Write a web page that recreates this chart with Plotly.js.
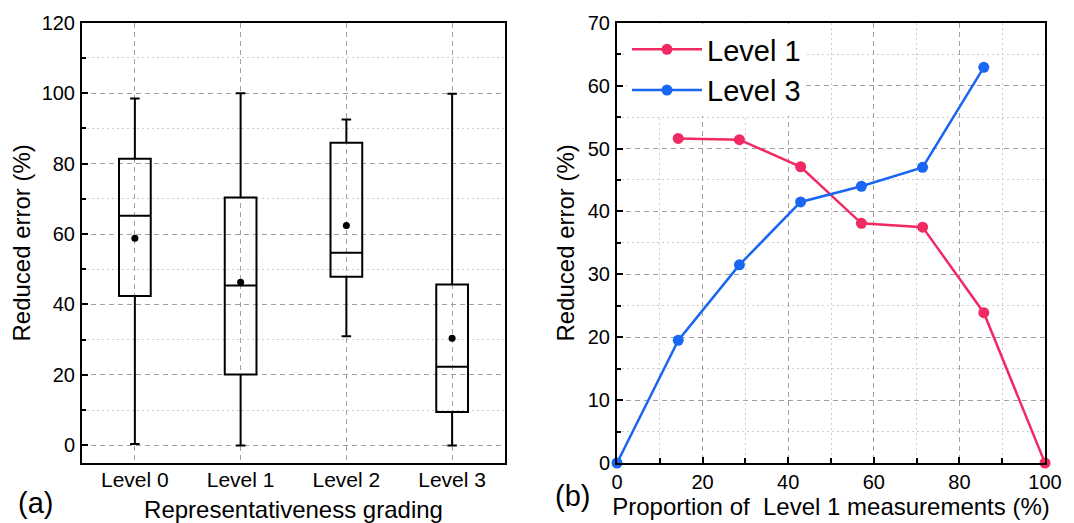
<!DOCTYPE html>
<html>
<head>
<meta charset="utf-8">
<script src="https://cdn.plot.ly/plotly-3.0.1.min.js"></script>
<style>html,body{margin:0;padding:0;background:#fff;}#chart{width:1074px;height:523px;}</style>
</head>
<body>
<div id="chart"></div>
<script>
// Panel (a): box plot statistics
const categories = ['Level 0', 'Level 1', 'Level 2', 'Level 3'];
const q1Vals = [42.4, 20.1, 47.9, 9.5];
const medianVals = [65.2, 45.4, 54.7, 22.3];
const q3Vals = [81.4, 70.4, 85.9, 45.7];
const lowerVals = [0.4, 0, 31.0, 0];
const upperVals = [98.5, 100, 92.5, 99.8];
const meanVals = [58.8, 46.3, 62.4, 30.4];

// Panel (b): line series
const propX = [0, 14.3, 28.6, 42.9, 57.1, 71.4, 85.7, 100];
const level1Vals = [null, 51.6, 51.4, 47.1, 38.1, 37.5, 23.9, 0];
const level3Vals = [0, 19.5, 31.5, 41.5, 44.0, 47.0, 62.9, null];

const FONT = 'Arial, "Liberation Sans", sans-serif';
const RED = '#F22A63';
const BLUE = '#1866F2';

const traces = [
  {
    type: 'box', x: categories, q1: q1Vals, median: medianVals, q3: q3Vals,
    lowerfence: lowerVals, upperfence: upperVals,
    boxpoints: false, width: 0.3, whiskerwidth: 0.3,
    line: {color: '#000', width: 2}, fillcolor: 'rgba(0,0,0,0)',
    xaxis: 'x', yaxis: 'y', showlegend: false, hoverinfo: 'skip'
  },
  {
    type: 'scatter', mode: 'markers', x: categories, y: meanVals,
    marker: {color: '#000', size: 7}, xaxis: 'x', yaxis: 'y', showlegend: false
  },
  {
    type: 'scatter', mode: 'lines+markers', name: 'Level 1', x: propX, y: level1Vals,
    line: {color: RED, width: 2.5}, marker: {color: RED, size: 11},
    xaxis: 'x2', yaxis: 'y2', cliponaxis: false, connectgaps: false
  },
  {
    type: 'scatter', mode: 'lines+markers', name: 'Level 3', x: propX, y: level3Vals,
    line: {color: BLUE, width: 2.5}, marker: {color: BLUE, size: 11},
    xaxis: 'x2', yaxis: 'y2', cliponaxis: false, connectgaps: false
  }
];

const W = 1074, H = 523;
const majorGrid = {gridcolor: '#a0a0a0', griddash: '5px,4px', gridwidth: 1};
const minorGridStyle = {showgrid: true, gridcolor: '#cccccc', griddash: '2px,3px', gridwidth: 1};
const axBase = {
  showline: true, mirror: true, linecolor: '#000', linewidth: 2, zeroline: false,
  tickfont: {family: FONT, size: 20, color: '#000'}, showgrid: true
};

const layout = {
  width: W, height: H,
  margin: {l: 0, r: 0, t: 0, b: 0},
  paper_bgcolor: '#fff', plot_bgcolor: '#fff',
  font: {family: FONT, color: '#000'},
  showlegend: true,
  legend: {
    x: 627 / W, y: 1 - 24 / H, xanchor: 'left', yanchor: 'top',
    bgcolor: '#fff', borderwidth: 0, itemwidth: 70,
    font: {family: FONT, size: 29, color: '#000'}, tracegroupgap: 0
  },
  xaxis: Object.assign({}, axBase, majorGrid, {
    domain: [82 / W, 505 / W], anchor: 'y', type: 'category', range: [-0.5, 3.5],
    ticks: '', ticklen: 0, ticklabelstandoff: -3,
    tickfont: {family: FONT, size: 21, color: '#000'},
    title: {text: 'Representativeness grading', font: {family: FONT, size: 24}, standoff: 14}
  }),
  yaxis: Object.assign({}, axBase, majorGrid, {
    domain: [1 - 463 / H, 1 - 22.7 / H], anchor: 'x', range: [-5, 120], dtick: 20, tick0: 0,
    ticks: 'inside', ticklen: 6, tickwidth: 2, tickcolor: '#000', ticklabelstandoff: 1,
    minor: Object.assign({dtick: 10, tick0: 0, ticks: 'inside', ticklen: 4, tickwidth: 2, tickcolor: '#000'}, minorGridStyle),
    title: {text: 'Reduced error (%)', font: {family: FONT, size: 24}, standoff: 4}
  }),
  xaxis2: Object.assign({}, axBase, majorGrid, {
    domain: [617 / W, 1045 / W], anchor: 'y2', range: [0, 100], dtick: 20, tick0: 0,
    ticks: 'inside', ticklen: 6, tickwidth: 2, tickcolor: '#000', ticklabelstandoff: 0,
    minor: Object.assign({dtick: 10, tick0: 0, ticks: 'inside', ticklen: 5, tickwidth: 2, tickcolor: '#000'}, minorGridStyle),
    title: {text: 'Proportion of&nbsp; Level 1 measurements (%)', font: {family: FONT, size: 24}, standoff: 2}
  }),
  yaxis2: Object.assign({}, axBase, majorGrid, {
    domain: [1 - 463 / H, 1 - 22.7 / H], anchor: 'x2', range: [0, 70], dtick: 10, tick0: 0,
    ticks: 'inside', ticklen: 6, tickwidth: 2, tickcolor: '#000', ticklabelstandoff: 1,
    minor: Object.assign({dtick: 5, tick0: 0, ticks: 'inside', ticklen: 4, tickwidth: 2, tickcolor: '#000'}, minorGridStyle),
    title: {text: 'Reduced error (%)', font: {family: FONT, size: 24}, standoff: 6}
  }),
  annotations: [
    {text: '(a)', xref: 'paper', yref: 'paper', x: 35 / W, y: 1 - 503 / H, xanchor: 'center', yanchor: 'middle',
     showarrow: false, font: {family: FONT, size: 29, color: '#000'}},
    {text: '(b)', xref: 'paper', yref: 'paper', x: 572 / W, y: 1 - 496 / H, xanchor: 'center', yanchor: 'middle',
     showarrow: false, font: {family: FONT, size: 29, color: '#000'}}
  ]
};

Plotly.newPlot('chart', traces, layout, {displayModeBar: false, staticPlot: true});
</script>
</body>
</html>
